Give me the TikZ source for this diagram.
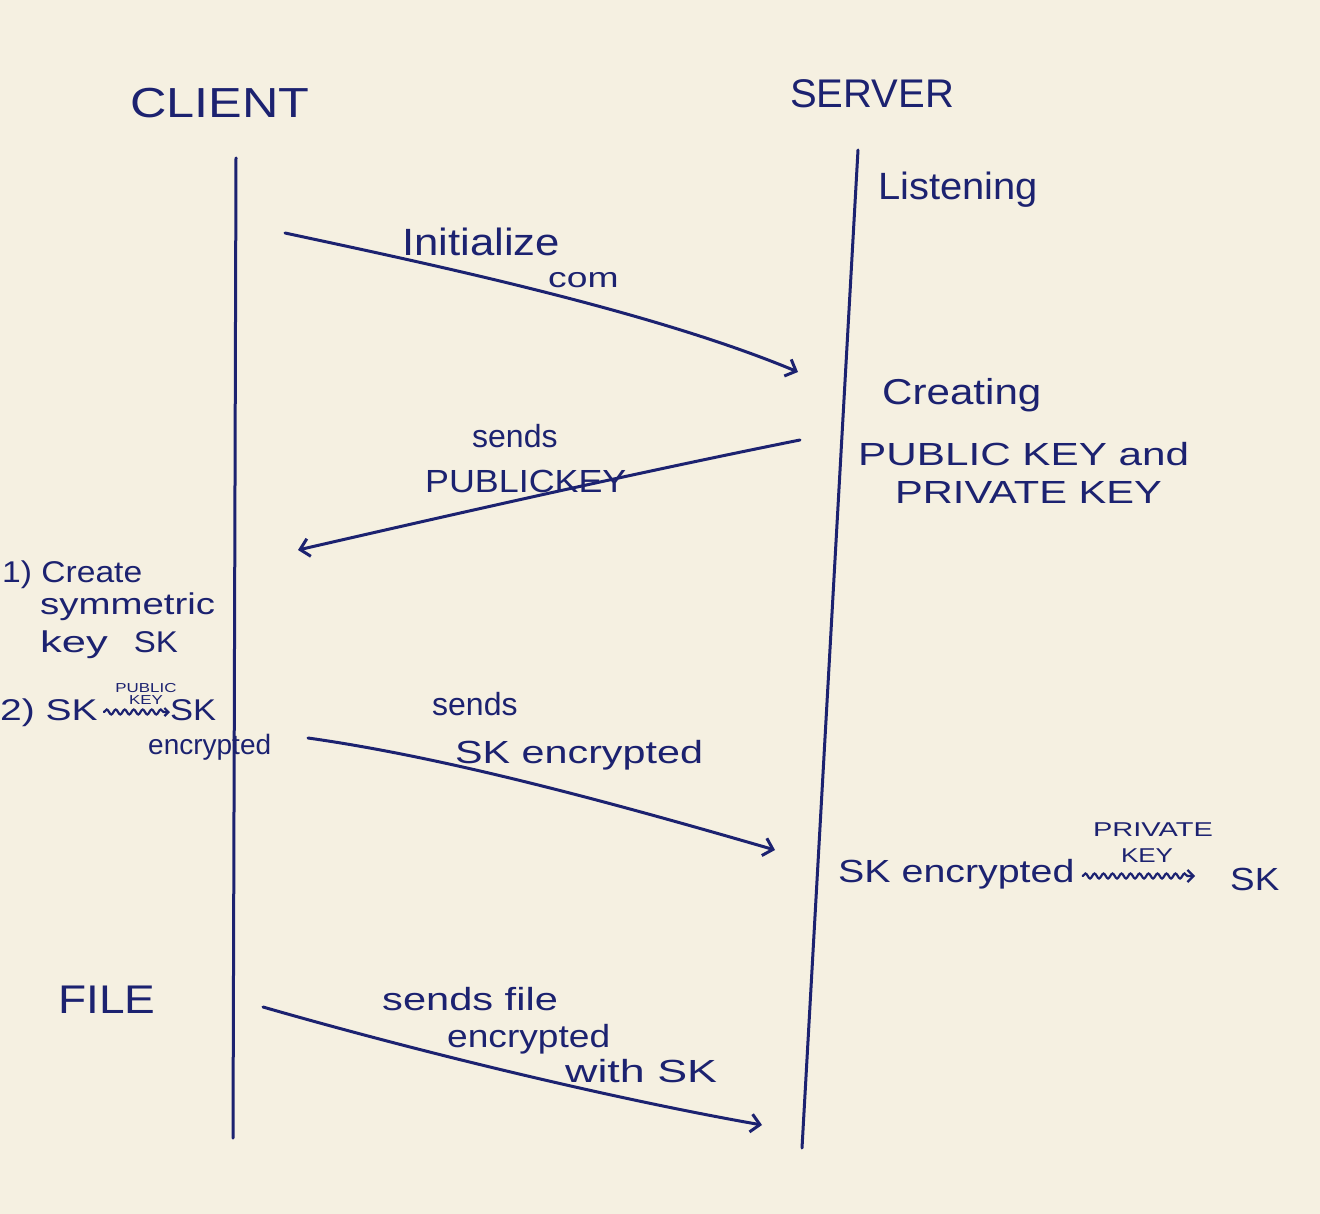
\documentclass[tikz,border=0pt]{standalone}
\usepackage{fontspec}
\setmainfont{Liberation Sans}
\usepackage{graphicx}
\usetikzlibrary{arrows.meta,decorations.pathmorphing}
\definecolor{paper}{HTML}{F5F0E1}
\definecolor{ink}{HTML}{1C2270}
\newcommand\hw[2][1.2]{\scalebox{#1}[1]{#2}}
\begin{document}
\begin{tikzpicture}[x=1pt,y=-1pt,
  lbl/.style={text=ink, inner sep=0pt, anchor=base west, font=\fontsize{32}{36}\selectfont},
  title/.style={lbl, font=\fontsize{42}{48}\selectfont},
  small/.style={text=ink, inner sep=0pt, anchor=base, font=\fontsize{20}{22}\selectfont},
  tiny/.style={text=ink, inner sep=0pt, anchor=base, font=\fontsize{13}{14}\selectfont},
  life/.style={draw=ink, line width=3pt, line cap=round},
  msg/.style={draw=ink, line width=3pt, line cap=round, -{Straight Barb[length=9pt,width=18pt,line width=3pt]}},
  squig/.style={draw=ink, line width=2.2pt, line cap=round, decorate, decoration={snake, amplitude=2.5pt, segment length=9pt, post length=4pt}}]
\fill[paper] (0,0) rectangle (1320,1214);
\useasboundingbox (0,0) rectangle (1320,1214);

% headers
\node[title] (client) at (130,118) {\hw[1.2]{CLIENT}};
\node[title, font=\fontsize{40}{44}\selectfont] (server) at (790,108) {SERVER};

% lifelines
\coordinate (ctop) at (236,158);
\coordinate (cbot) at (233,1138);
\coordinate (stop) at (858,150);
\coordinate (sbot) at (802,1148);
\draw[life] (ctop) -- (cbot);
\draw[life] (stop) -- (sbot);

% server state
\node[lbl, font=\fontsize{38}{40}\selectfont] (listen) at (878,200) {\hw[1.05]{Listening}};

% message 1
\coordinate (m1a) at (285,233);
\coordinate (m1b) at (798,372);
\draw[msg] (m1a) .. controls (420,262) and (650,310) .. (m1b);
\node[lbl, font=\fontsize{38}{40}\selectfont] (init) at (402,256) {\hw[1.15]{Initialize}};
\node[lbl, font=\fontsize{28}{30}\selectfont] (com) at (548,288) {\hw[1.33]{com}};

% creating keys
\node[lbl, font=\fontsize{36}{40}\selectfont] (creating) at (882,405) {\hw[1.17]{Creating}};
\node[lbl] (pubpriv) at (858,465) {\hw[1.32]{PUBLIC KEY and}};
\node[lbl] (priv) at (895,503) {\hw[1.3]{PRIVATE KEY}};

% message 2
\coordinate (m2a) at (800,440);
\coordinate (m2b) at (298,550);
\draw[msg] (m2a) .. controls (640,472) and (450,515) .. (m2b);
\node[lbl] (sends2) at (472,447) {sends};
\node[lbl] (pk) at (425,492) {\hw[1.12]{PUBLICKEY}};

% client steps
\node[lbl, font=\fontsize{30}{32}\selectfont] (step1) at (2,582) {\hw[1.12]{1) Create}};
\node[lbl, font=\fontsize{30}{32}\selectfont] (sym) at (40,614) {\hw[1.28]{symmetric}};
\node[lbl, font=\fontsize{30}{32}\selectfont] (keysk) at (40,652) {\hw[1.45]{key}\hspace{26pt}\hw[1.1]{SK}};
\node[lbl, font=\fontsize{30}{32}\selectfont] (step2) at (0,720) {\hw[1.3]{2) SK}};
\node[lbl, font=\fontsize{30}{32}\selectfont] (sk2) at (170,720) {\hw[1.15]{SK}};
\node[lbl, font=\fontsize{28}{30}\selectfont] (enc1) at (148,754) {encrypted};
\node[tiny] (pubkey1) at (146,692) {\hw[1.3]{PUBLIC}};
\node[tiny] (pubkey2) at (146,704) {\hw[1.3]{KEY}};
\draw[squig, -{Straight Barb[length=4pt,width=8pt]}] (step2.base east) ++(6,-8) coordinate (q1) (q1) -- (sk2.base west |- q1);

% message 3
\coordinate (m3a) at (308,738);
\coordinate (m3b) at (775,850);
\draw[msg] (m3a) .. controls (450,758) and (620,805) .. (m3b);
\node[lbl] (sends3) at (432,715) {sends};
\node[lbl] (skenc) at (455,763) {\hw[1.29]{SK encrypted}};

% server decrypt
\node[lbl] (skenc2) at (838,882) {\hw[1.23]{SK encrypted}};
\node[lbl] (sk3) at (1230,890) {\hw[1.15]{SK}};
\node[small] (privk1) at (1153,836) {\hw[1.45]{PRIVATE}};
\node[small] (privk2) at (1147,862) {\hw[1.3]{KEY}};
\draw[squig, -{Straight Barb[length=6pt,width=12pt]}] (skenc2.base east) ++(8,-6) coordinate (q2) (q2) -- (1195,876);

% file
\node[title, font=\fontsize{40}{44}\selectfont] (file) at (58,1013) {\hw[1.15]{FILE}};

% message 4
\coordinate (m4a) at (263,1007);
\coordinate (m4b) at (762,1125);
\draw[msg] (m4a) .. controls (430,1055) and (620,1100) .. (m4b);
\node[lbl] (sendsfile) at (382,1010) {\hw[1.3]{sends file}};
\node[lbl] (enc4) at (447,1047) {\hw[1.16]{encrypted}};
\node[lbl] (withsk) at (565,1082) {\hw[1.4]{with SK}};
\end{tikzpicture}
\end{document}
